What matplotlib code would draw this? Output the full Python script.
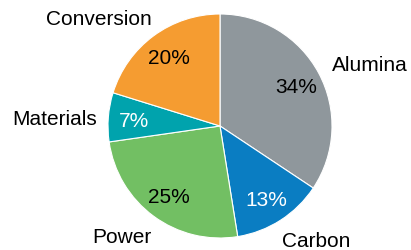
import matplotlib
matplotlib.use("Agg")
import matplotlib.pyplot as plt

categories = ["Alumina", "Carbon", "Power", "Materials", "Conversion"]
values = [34, 13, 25, 7, 20]
colors = ["#8f979c", "#0a7dc2", "#72bf63", "#00a3ad", "#f59c31"]
pct_colors = ["black", "white", "black", "white", "black"]

# label anchor positions (axes data units, radius = 1)
label_pos = [(1.0, 0.56), (0.55, -1.015), (-0.61, -0.975), (-1.10, 0.08), (-0.61, 0.965)]

plt.rcParams['font.family'] = ['Liberation Sans', 'DejaVu Sans']

fig = plt.figure(figsize=(4.11, 2.5), dpi=100)
W, H = 411, 250
cx, cy, r = 220, 124, 112
ax = fig.add_axes([(cx - r) / W, (cy - r) / H, 2 * r / W, 2 * r / H])

wedges, texts, autotexts = ax.pie(
    values, labels=categories, colors=colors, startangle=90, counterclock=False,
    autopct='%.0f%%', pctdistance=0.77, labeldistance=1.15,
    wedgeprops=dict(edgecolor='white', linewidth=0.8),
    textprops=dict(fontsize=15))
for t, c in zip(autotexts, pct_colors):
    t.set_color(c)
    t.set_fontsize(15)
    t.set_va('center_baseline')
for t, p in zip(texts, label_pos):
    t.set_position(p)
    t.set_va('center_baseline')
ax.set_xlim(-1, 1)
ax.set_ylim(-1, 1)
ax.set_aspect('equal')
fig.savefig("out.png", dpi=100)
